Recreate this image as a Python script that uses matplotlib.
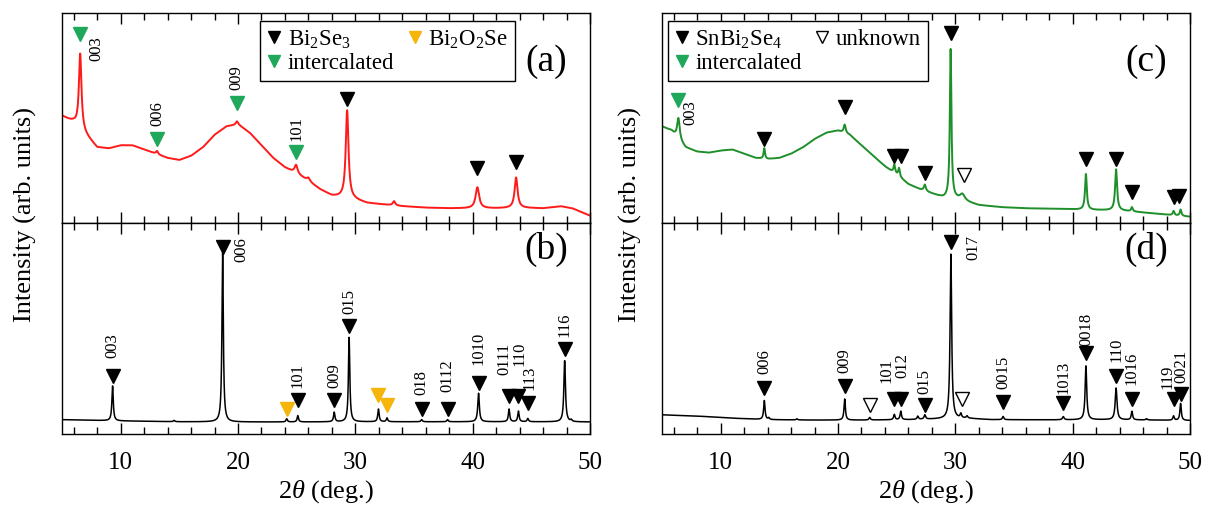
"""
XRD patterns: intercalated vs. pristine Bi2Se3 (left) and SnBi2Se4 (right).
Peak tables and background levels read off the published figure.
Output: out.png
"""

import numpy as np
import matplotlib.pyplot as plt
from matplotlib.lines import Line2D
from matplotlib.ticker import MultipleLocator

# ---------------------------------------------------------------------------
# Data (intensity in panel-normalised units, 0 = bottom, 1 = top)
# ---------------------------------------------------------------------------

# (a) intercalated Bi2Se3 -- broad background + peaks
A_BG_X = [5.0, 6.0, 7.0, 8.0, 9.0, 10.0, 11.0, 12.0, 13.0, 14.0, 15.0, 16.0, 17.0,
          18.0, 19.0, 20.0, 21.0, 22.0, 23.0, 24.0, 25.0, 26.0, 27.0, 28.0, 29.0,
          30.0, 31.0, 32.0, 34.0, 36.0, 38.0, 40.0, 42.0, 44.0, 46.0, 47.5, 48.5, 50.0]
A_BG_Y = [0.51, 0.48, 0.42, 0.36, 0.355, 0.37, 0.37, 0.35, 0.33, 0.31, 0.30, 0.32, 0.36,
          0.42, 0.46, 0.47, 0.43, 0.37, 0.31, 0.265, 0.235, 0.20, 0.16, 0.13, 0.12,
          0.11, 0.095, 0.09, 0.08, 0.073, 0.07, 0.07, 0.07, 0.072, 0.07, 0.08, 0.07, 0.035]
A_PK_POS = [6.55, 13.1, 19.9, 24.95, 26.0, 29.3, 33.3, 40.4, 43.7]
A_PK_H   = [0.36, 0.015, 0.015, 0.04, 0.015, 0.42, 0.02, 0.10, 0.145]
A_PK_W   = [0.13, 0.10, 0.10, 0.15, 0.15, 0.14, 0.12, 0.18, 0.15]

# (b) pristine Bi2Se3
B_BG_X = [5.0, 10.0, 15.0, 20.0, 25.0, 30.0, 35.0, 40.0, 45.0, 50.0]
B_BG_Y = [0.068, 0.062, 0.058, 0.057, 0.057, 0.058, 0.058, 0.058, 0.058, 0.057]
B_PK_POS = [9.31, 14.55, 18.69, 24.15, 25.1, 28.2, 29.47, 31.97, 32.7, 35.65,
            37.86, 40.5, 43.1, 43.9, 44.7, 47.84, 48.4]
B_PK_H   = [0.165, 0.006, 0.80, 0.015, 0.03, 0.045, 0.40, 0.06, 0.018, 0.01,
            0.01, 0.135, 0.06, 0.05, 0.015, 0.29, 0.008]
B_PK_W   = [0.07, 0.07, 0.07, 0.07, 0.07, 0.07, 0.07, 0.07, 0.07, 0.07,
            0.07, 0.08, 0.07, 0.07, 0.07, 0.08, 0.07]

# (c) intercalated SnBi2Se4
C_BG_X = [5.0, 5.8, 7.0, 8.0, 9.0, 10.0, 11.0, 12.0, 13.0, 14.0, 15.0, 16.0, 17.0,
          18.0, 19.0, 20.0, 21.0, 22.0, 23.0, 24.0, 25.0, 26.0, 27.0, 28.0, 29.0,
          30.0, 31.0, 32.0, 34.0, 36.0, 38.0, 40.0, 42.0, 44.0, 46.0, 48.0, 50.0]
C_BG_Y = [0.46, 0.44, 0.36, 0.34, 0.335, 0.345, 0.35, 0.33, 0.31, 0.305, 0.31, 0.33, 0.36,
          0.40, 0.43, 0.44, 0.42, 0.37, 0.32, 0.27, 0.23, 0.185, 0.16, 0.14, 0.12,
          0.115, 0.10, 0.085, 0.075, 0.07, 0.068, 0.065, 0.062, 0.06, 0.05, 0.04, 0.03]
C_PK_POS = [6.4, 13.72, 20.57, 24.8, 25.2, 27.4, 29.6, 30.6, 41.13, 43.7, 45.05, 48.6, 49.2]
C_PK_H   = [0.10, 0.05, 0.04, 0.04, 0.04, 0.03, 0.71, 0.03, 0.17, 0.195, 0.02, 0.02, 0.03]
C_PK_W   = [0.13, 0.07, 0.10, 0.08, 0.08, 0.10, 0.08, 0.25, 0.09, 0.10, 0.08, 0.08, 0.08]

# (d) pristine SnBi2Se4
D_BG_X = [5.0, 8.0, 11.0, 14.0, 18.0, 22.0, 26.0, 29.0, 31.0, 33.0, 38.0, 43.0, 47.0, 50.0]
D_BG_Y = [0.091, 0.085, 0.075, 0.068, 0.066, 0.066, 0.068, 0.072, 0.074, 0.068, 0.067,
          0.068, 0.066, 0.064]
D_PK_POS = [13.72, 14.1, 16.5, 20.57, 22.7, 24.8, 25.35, 26.8, 27.4, 29.62, 30.47, 31.0,
            34.07, 39.2, 41.13, 43.7, 45.05, 46.3, 48.6, 49.2]
D_PK_H   = [0.09, 0.008, 0.005, 0.10, 0.012, 0.025, 0.04, 0.015, 0.02, 0.78, 0.02, 0.01,
            0.015, 0.015, 0.255, 0.15, 0.04, 0.006, 0.02, 0.08]
D_PK_W   = [0.07, 0.07, 0.07, 0.07, 0.07, 0.07, 0.07, 0.07, 0.08, 0.08, 0.07, 0.07,
            0.07, 0.08, 0.08, 0.09, 0.07, 0.07, 0.07, 0.07]

# phase markers: x, y, kind  (kind: bi = black, int = green, ox = orange, unk = open)
A_MK_X = [6.55, 13.1, 19.9, 24.95, 29.3, 40.4, 43.7]
A_MK_Y = [0.90, 0.40, 0.57, 0.34, 0.59, 0.26, 0.29]
A_MK_K = ["int", "int", "int", "int", "bi", "bi", "bi"]

B_MK_X = [9.31, 18.69, 24.15, 25.1, 28.2, 29.47, 31.97, 32.7, 35.65, 37.86, 40.5,
          43.1, 43.9, 44.7, 47.84]
B_MK_Y = [0.276, 0.886, 0.12, 0.16, 0.16, 0.514, 0.186, 0.137, 0.12, 0.12, 0.244,
          0.178, 0.178, 0.145, 0.404]
B_MK_K = ["bi", "bi", "ox", "bi", "bi", "bi", "ox", "ox", "bi", "bi", "bi",
          "bi", "bi", "bi", "bi"]

C_MK_X = [6.4, 13.72, 20.57, 24.8, 25.35, 27.4, 29.6, 30.75, 41.13, 43.7, 45.05, 48.6, 49.1]
C_MK_Y = [0.585, 0.40, 0.55, 0.32, 0.32, 0.238, 0.905, 0.23, 0.305, 0.305, 0.147, 0.124, 0.13]
C_MK_K = ["int", "bi", "bi", "bi", "bi", "bi", "bi", "unk", "bi", "bi", "bi", "bi", "bi"]

D_MK_X = [13.72, 20.57, 22.7, 24.8, 25.35, 27.4, 29.62, 30.6, 34.07, 39.2, 41.13,
          43.7, 45.05, 48.6, 49.2]
D_MK_Y = [0.219, 0.227, 0.137, 0.164, 0.164, 0.137, 0.912, 0.164, 0.15, 0.145, 0.384,
          0.276, 0.164, 0.164, 0.188]
D_MK_K = ["bi", "bi", "unk", "bi", "bi", "bi", "bi", "unk", "bi", "bi", "bi",
          "bi", "bi", "bi", "bi"]

# Miller-index labels: text, x, y
A_HKL   = ["003", "006", "009", "101"]
A_HKL_X = [7.95, 13.1, 19.9, 24.95]
A_HKL_Y = [0.83, 0.52, 0.69, 0.45]

B_HKL   = ["003", "006", "101", "009", "015", "018", "0112", "1010", "0111", "110", "113", "116"]
B_HKL_X = [9.31, 20.3, 25.1, 28.2, 29.47, 35.65, 37.86, 40.5, 42.7, 43.95, 44.8, 47.84]
B_HKL_Y = [0.42, 0.875, 0.276, 0.276, 0.63, 0.244, 0.276, 0.407, 0.358, 0.38, 0.265, 0.52]

C_HKL   = ["003"]
C_HKL_X = [7.4]
C_HKL_Y = [0.526]

D_HKL   = ["006", "009", "101", "012", "015", "017", "0015", "1013", "0018", "110",
           "1016", "119", "0021"]
D_HKL_X = [13.72, 20.57, 24.16, 25.5, 27.4, 31.5, 34.07, 39.2, 41.13, 43.7,
           45.05, 48.1, 49.3]
D_HKL_Y = [0.342, 0.35, 0.30, 0.325, 0.25, 0.883, 0.29, 0.27, 0.497, 0.40,
           0.31, 0.27, 0.32]

# ---------------------------------------------------------------------------
# Style
# ---------------------------------------------------------------------------

SERIF = "Liberation Serif"
RED    = "#ff1a1a"
GREEN  = "#1f8f2a"
MK_GREEN  = "#1fa85a"
MK_ORANGE = "#f5b50a"

MARK_STYLE = {
    "bi":  dict(mfc="black", mec="black"),
    "int": dict(mfc=MK_GREEN, mec=MK_GREEN),
    "ox":  dict(mfc=MK_ORANGE, mec=MK_ORANGE),
    "unk": dict(mfc="white", mec="black"),
}

plt.rcParams["font.family"] = [SERIF, "DejaVu Serif"]
plt.rcParams["mathtext.fontset"] = "custom"
plt.rcParams["mathtext.rm"] = SERIF
plt.rcParams["mathtext.it"] = SERIF + ":italic"

X_GRID = np.linspace(5, 50, 4501)


def pattern(bg_x, bg_y, pos, h, w):
    y = np.interp(X_GRID, bg_x, bg_y)
    for p, a, g in zip(pos, h, w):
        y = y + a / (1 + ((X_GRID - p) / g) ** 2)
    return y


def style_axes(ax, bottom_labels):
    ax.set_xlim(5, 50)
    ax.set_ylim(0, 1)
    ax.set_yticks([])
    ax.xaxis.set_major_locator(MultipleLocator(10))
    ax.xaxis.set_minor_locator(MultipleLocator(2))
    ax.tick_params(axis="x", which="both", direction="in", top=True, bottom=True,
                   labelbottom=bottom_labels, labelsize=18, pad=13)
    ax.tick_params(axis="x", which="major", length=8, width=1)
    ax.tick_params(axis="x", which="minor", length=5, width=1)
    for s in ax.spines.values():
        s.set_linewidth(1.0)


def draw_panel(ax, curve, color, lw, mk_x, mk_y, mk_k, hkl, hkl_x, hkl_y, tag, tag_y):
    ax.plot(X_GRID, curve, color=color, lw=lw)
    for x, y, k in zip(mk_x, mk_y, mk_k):
        ax.plot(x, y, marker="v", ms=10, ls="none", mew=1.0, **MARK_STYLE[k])
    for t, x, y in zip(hkl, hkl_x, hkl_y):
        ax.text(x, y, t, rotation=90, ha="center", va="center", fontsize=12)
    ax.text(0.917, tag_y, tag, transform=ax.transAxes, ha="center", va="center",
            fontsize=27)


def add_legend(ax, entries, anchor):
    handles = [Line2D([], [], marker="v", ls="none", ms=9, mew=1.0,
                      label=lab, **MARK_STYLE[k]) for lab, k in entries]
    leg = ax.legend(handles=handles, ncol=2, loc="upper left", bbox_to_anchor=anchor,
                    borderaxespad=0, fontsize=16.5, frameon=True, fancybox=False,
                    edgecolor="black", framealpha=1, handlelength=0.6,
                    handletextpad=0.3, columnspacing=0.6, borderpad=0.3,
                    labelspacing=0.1)
    leg.get_frame().set_linewidth(1.0)


def main():
    fig = plt.figure(figsize=(12.09, 5.08), dpi=100)
    W, H = 1209, 508
    lefts = [62 / W, 662 / W]
    width = 528 / W
    top_box = (1 - 223 / H, 210 / H)
    bot_box = (1 - 434 / H, 211 / H)

    ax_a = fig.add_axes([lefts[0], top_box[0], width, top_box[1]])
    ax_b = fig.add_axes([lefts[0], bot_box[0], width, bot_box[1]])
    ax_c = fig.add_axes([lefts[1], top_box[0], width, top_box[1]])
    ax_d = fig.add_axes([lefts[1], bot_box[0], width, bot_box[1]])

    draw_panel(ax_a, pattern(A_BG_X, A_BG_Y, A_PK_POS, A_PK_H, A_PK_W), RED, 1.4,
               A_MK_X, A_MK_Y, A_MK_K, A_HKL, A_HKL_X, A_HKL_Y, "(a)", 0.77)
    draw_panel(ax_b, pattern(B_BG_X, B_BG_Y, B_PK_POS, B_PK_H, B_PK_W), "black", 1.1,
               B_MK_X, B_MK_Y, B_MK_K, B_HKL, B_HKL_X, B_HKL_Y, "(b)", 0.874)
    draw_panel(ax_c, pattern(C_BG_X, C_BG_Y, C_PK_POS, C_PK_H, C_PK_W), GREEN, 1.4,
               C_MK_X, C_MK_Y, C_MK_K, C_HKL, C_HKL_X, C_HKL_Y, "(c)", 0.77)
    draw_panel(ax_d, pattern(D_BG_X, D_BG_Y, D_PK_POS, D_PK_H, D_PK_W), "black", 1.1,
               D_MK_X, D_MK_Y, D_MK_K, D_HKL, D_HKL_X, D_HKL_Y, "(d)", 0.877)

    for ax, lab in [(ax_a, False), (ax_b, True), (ax_c, False), (ax_d, True)]:
        style_axes(ax, lab)

    add_legend(ax_a, [("Bi$_2$Se$_3$", "bi"), ("intercalated", "int"),
                      ("Bi$_2$O$_2$Se", "ox")], (0.375, 0.96))
    add_legend(ax_c, [("SnBi$_2$Se$_4$", "bi"), ("intercalated", "int"),
                      ("unknown", "unk")], (0.011, 0.96))

    for x in (25 / W, 630 / W):
        fig.text(x, 1 - 215 / H, "Intensity (arb. units)", rotation=90,
                 ha="center", va="center", fontsize=19)
    for ax in (ax_b, ax_d):
        x0, _, w0, _ = ax.get_position().bounds
        fig.text(x0 + w0 / 2, 1 - 492 / H, r"2$\mathit{\theta}$ (deg.)",
                 ha="center", va="center", fontsize=19)

    fig.savefig("out.png", dpi=100)
    plt.close(fig)


if __name__ == "__main__":
    main()
